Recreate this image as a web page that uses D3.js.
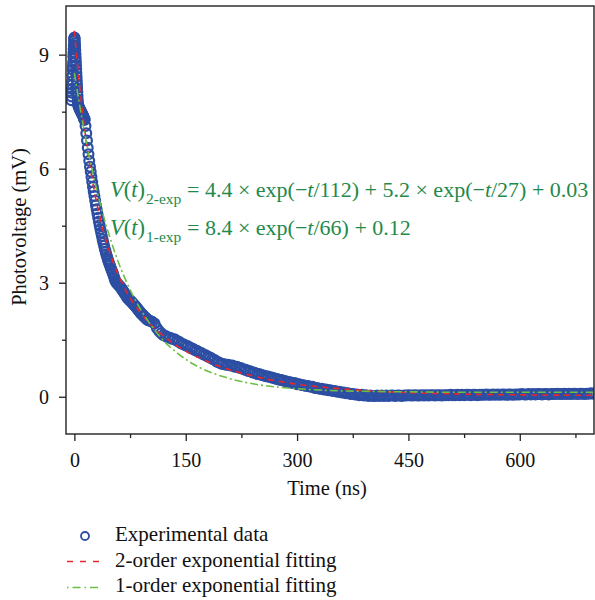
<!DOCTYPE html>
<html>
<head>
<meta charset="utf-8">
<script src="https://cdn.jsdelivr.net/npm/d3@7"></script>
<style>
  html, body { margin: 0; padding: 0; background: #fff; }
  svg { display: block; }
  text { font-family: "Liberation Serif", "Times New Roman", serif; }
</style>
</head>
<body>
<svg id="chart" width="595" height="600"></svg>
<script>
// ---------- DATA ----------
// Experimental data, in segments: {start, step, values}
const riseStart = -4, riseStep = 0.25;
const riseValues = [7.8,7.9,8.0,8.1,8.2,8.3,8.45,8.6,8.7,8.8,8.95,9.05,9.15,9.25,9.35,9.42];
const peakStart = 0, peakStep = 0.25;
const peakValues = [9.45,9.43,9.38,9.3,9.22,9.12,9.02,8.92,8.82,8.72,8.62,8.52,8.42,8.32,8.22,8.12,8.02,7.92,7.82,7.74,7.68];
const shoulderStart = 5.5, shoulderStep = 0.5;
const shoulderValues = [7.65,7.62,7.6,7.58,7.56,7.54,7.52,7.5,7.48,7.46,7.44,7.42,7.40,7.38,7.35,7.32,7.28];
const decayStart = 14, decayStep = 1;
const decayValues = [7.30,7.12,6.93,6.74,6.55,6.38,6.21,6.05,5.92,5.78,5.65,5.52,5.40,5.28,5.16,5.04,4.93,4.82,4.71,4.61,
  4.51,4.41,4.32,4.23,4.14,4.05,3.97,3.89,3.82,3.75,3.68,3.62,3.56,3.50,3.45,3.39,3.34,3.29,3.24,3.18,
  3.12,3.06,3.02,2.99,2.97,2.95,2.93,2.91,2.89,2.86,2.83,2.80,2.77,2.74,2.71,2.68,2.65,2.62,2.59,2.57,
  2.55,2.53,2.51,2.49,2.47,2.45,2.43,2.41,2.39,2.36,2.34,2.31,2.29,2.26,2.24,2.21,2.19,2.17,2.15,2.13,
  2.11,2.09,2.07,2.05,2.03,2.02,2.01];
const tailStart = 102, tailStep = 3;
const tailValues = [1.99,1.97,1.93,1.81,1.73,1.67,1.62,1.60,1.56,1.55,1.52,1.51,1.47,1.45,1.40,1.38,1.35,1.33,1.29,1.27,
  1.23,1.21,1.17,1.15,1.11,1.09,1.05,1.03,0.99,0.97,0.92,0.90,0.87,0.86,0.84,0.84,0.82,0.82,0.79,0.79,
  0.76,0.75,0.72,0.71,0.68,0.67,0.64,0.63,0.60,0.60,0.57,0.56,0.54,0.53,0.51,0.50,0.48,0.47,0.45,0.44,
  0.42,0.41,0.39,0.38,0.36,0.36,0.33,0.33,0.31,0.30,0.28,0.28,0.26,0.26,0.23,0.23,0.21,0.21,0.19,0.19,
  0.17,0.17,0.15,0.15,0.13,0.13,0.11,0.11,0.09,0.09,0.07,0.07,0.06,0.06,0.04,0.05,0.03,0.04,0.02,0.03,0.02];
const baseStart = 405, baseStep = 3;
const baseValues = [0.02,0.03,0.02,0.03,0.02,0.03,0.02,0.03,0.03,0.02,0.03,0.03,0.02,0.03,0.03,0.04,
  0.03,0.03,0.04,0.03,0.03,0.04,0.03,0.04,0.03,0.04,0.04,0.03,0.04,0.04,0.03,0.04,
  0.04,0.04,0.05,0.04,0.04,0.05,0.04,0.05,0.04,0.05,0.05,0.04,0.05,0.05,0.04,0.05,
  0.05,0.05,0.06,0.05,0.05,0.06,0.05,0.06,0.05,0.06,0.06,0.05,0.06,0.06,0.05,0.06,
  0.06,0.06,0.07,0.06,0.06,0.07,0.06,0.07,0.06,0.07,0.07,0.06,0.07,0.07,0.06,0.07,
  0.07,0.07,0.08,0.07,0.07,0.08,0.07,0.08,0.07,0.08,0.08,0.07,0.08,0.08,0.07,0.08,0.08,0.09,0.08];

// 2-order exponential fit (red dashed), read at these times
const fit2Times  = [0,2,4,6,8,10,12,14,17,20,24,28,32,36,40,45,50,55,60,65,70,80,90,100,110,120,135,150,165,180,200,220,240,260,280,300,330,360,400,450,500,550,600,650,700];
const fit2Values = [9.63,9.18,8.76,8.36,7.99,7.65,7.32,7.01,6.58,6.19,5.72,5.30,4.93,4.59,4.29,3.96,3.66,3.40,3.17,2.96,2.77,2.45,2.19,1.96,1.77,1.60,1.38,1.20,1.05,0.92,0.77,0.65,0.55,0.46,0.39,0.33,0.26,0.21,0.15,0.11,0.08,0.06,0.05,0.043,0.038];
// 1-order exponential fit (green dash-dot)
const fit1Times  = [0,5,10,15,20,25,30,40,50,60,70,80,90,100,120,140,160,180,200,225,250,275,300,350,400,450,500,600,700];
const fit1Values = [8.52,7.91,7.34,6.81,6.32,5.87,5.45,4.70,4.06,3.50,3.03,2.62,2.27,1.97,1.48,1.13,0.86,0.67,0.53,0.40,0.31,0.25,0.21,0.16,0.14,0.13,0.12,0.12,0.12];

const xTickValues = [0,150,300,450,600];
const xMinorTicks = [75,225,375,525,675];
const yTickValues = [0,3,6,9];
const yMinorTicks = [1.5,4.5,7.5];
const xLabel = "Time (ns)";
const yLabel = "Photovoltage (mV)";
const legendLabels = ["Experimental data","2-order exponential fitting","1-order exponential fitting"];

// ---------- DRAW ----------
const svg = d3.select("#chart");
const L = 66, R = 594, T = 6, B = 434;
const x = d3.scaleLinear().domain([-11.3, 700]).range([L, R]);
const y = d3.scaleLinear().domain([-0.98, 10.28]).range([B, T]);

const blue = "#2c4ea3", red = "#e8262b", lgreen = "#6cbf45", eqGreen = "#1f8a4a";

function seg(start, step, vals) { return vals.map((v, i) => [start + i * step, v]); }
const data = [].concat(
  seg(riseStart, riseStep, riseValues),
  seg(peakStart, peakStep, peakValues),
  seg(shoulderStart, shoulderStep, shoulderValues),
  seg(decayStart, decayStep, decayValues),
  seg(tailStart, tailStep, tailValues),
  seg(baseStart, baseStep, baseValues)
);

svg.append("defs").append("clipPath").attr("id", "clip")
  .append("rect").attr("x", L).attr("y", T).attr("width", R - L).attr("height", B - T);

const plot = svg.append("g").attr("clip-path", "url(#clip)");

plot.selectAll("circle.pt").data(data).enter().append("circle")
  .attr("class", "pt")
  .attr("cx", d => x(d[0])).attr("cy", d => y(d[1]))
  .attr("r", 4.9).attr("fill", "none").attr("stroke", blue).attr("stroke-width", 2.2);

const line = d3.line().x(d => x(d[0])).y(d => y(d[1])).curve(d3.curveMonotoneX);
plot.append("path").datum(fit2Times.map((t, i) => [t, fit2Values[i]]))
  .attr("d", line).attr("fill", "none").attr("stroke", red)
  .attr("stroke-width", 1.6).attr("stroke-dasharray", "6,5");
plot.append("path").datum(fit1Times.map((t, i) => [t, fit1Values[i]]))
  .attr("d", line).attr("fill", "none").attr("stroke", lgreen)
  .attr("stroke-width", 1.6).attr("stroke-dasharray", "8,3,2,3");

// Axes
const xAxis = d3.axisBottom(x).tickValues(xTickValues).tickSize(7).tickSizeOuter(0).tickPadding(12);
const gx = svg.append("g").attr("transform", `translate(0,${B})`).call(xAxis);
gx.select(".domain").remove();
gx.selectAll("line").attr("stroke", "#222").attr("stroke-width", 1.3);
gx.selectAll("text").attr("font-size", 20).attr("fill", "#111")
  .style("font-family", '"Liberation Serif", serif');
const gxm = svg.append("g").attr("transform", `translate(0,${B})`)
  .call(d3.axisBottom(x).tickValues(xMinorTicks).tickSize(4).tickSizeOuter(0).tickFormat(""));
gxm.select(".domain").remove();
gxm.selectAll("line").attr("stroke", "#222").attr("stroke-width", 1.3);

const yAxis = d3.axisLeft(y).tickValues(yTickValues).tickSize(7).tickSizeOuter(0).tickPadding(10);
const gy = svg.append("g").attr("transform", `translate(${L},0)`).call(yAxis);
gy.select(".domain").remove();
gy.selectAll("line").attr("stroke", "#222").attr("stroke-width", 1.3);
gy.selectAll("text").attr("font-size", 20).attr("fill", "#111")
  .style("font-family", '"Liberation Serif", serif');
const gym = svg.append("g").attr("transform", `translate(${L},0)`)
  .call(d3.axisLeft(y).tickValues(yMinorTicks).tickSize(4).tickSizeOuter(0).tickFormat(""));
gym.select(".domain").remove();
gym.selectAll("line").attr("stroke", "#222").attr("stroke-width", 1.3);

// Frame
svg.append("rect").attr("x", L).attr("y", T).attr("width", R - L).attr("height", B - T)
  .attr("fill", "none").attr("stroke", "#222").attr("stroke-width", 1.4);

// Axis titles
svg.append("text").attr("x", (x(0) + x(600)) / 2 + 30).attr("y", 495).attr("text-anchor", "middle")
  .attr("font-size", 20.5).attr("fill", "#111").text(xLabel);
svg.append("text").attr("transform", "translate(26,227) rotate(-90)").attr("text-anchor", "middle")
  .attr("font-size", 20.5).attr("fill", "#111").text(yLabel);

// Equations
function eq(yb, sub, rhs) {
  const t = svg.append("text").attr("x", 110).attr("y", yb).attr("font-size", 22.5).attr("fill", eqGreen);
  t.append("tspan").attr("font-style", "italic").text("V");
  t.append("tspan").text("(");
  t.append("tspan").attr("font-style", "italic").text("t");
  t.append("tspan").text(")");
  t.append("tspan").attr("font-size", 15.5).attr("dy", 7).attr("dx", 1).text(sub);
  const r = svg.append("text").attr("x", 187).attr("y", yb).attr("font-size", 22).attr("fill", eqGreen);
  rhs.forEach(p => {
    const s = r.append("tspan").text(p[0]);
    if (p[1]) s.attr("font-style", "italic");
  });
}
eq(197, "2-exp", [["= 4.4 × exp(−"],["t",1],["/112) + 5.2 × exp(−"],["t",1],["/27) + 0.03"]]);
eq(235, "1-exp", [["= 8.4 × exp(−"],["t",1],["/66) + 0.12"]]);

// Legend
const lg = svg.append("g");
lg.append("circle").attr("cx", 85).attr("cy", 536).attr("r", 4).attr("fill", "none")
  .attr("stroke", blue).attr("stroke-width", 1.8);
lg.append("line").attr("x1", 67).attr("x2", 101).attr("y1", 561.5).attr("y2", 561.5)
  .attr("stroke", red).attr("stroke-width", 1.5).attr("stroke-dasharray", "6,7");
lg.append("line").attr("x1", 67).attr("x2", 101).attr("y1", 587.5).attr("y2", 587.5)
  .attr("stroke", lgreen).attr("stroke-width", 1.5).attr("stroke-dasharray", "1.5,4,8,4");
legendLabels.forEach((s, i) => {
  lg.append("text").attr("x", 115).attr("y", 541 + i * 25.5).attr("font-size", 21)
    .attr("fill", "#111").text(s);
});
</script>
</body>
</html>
